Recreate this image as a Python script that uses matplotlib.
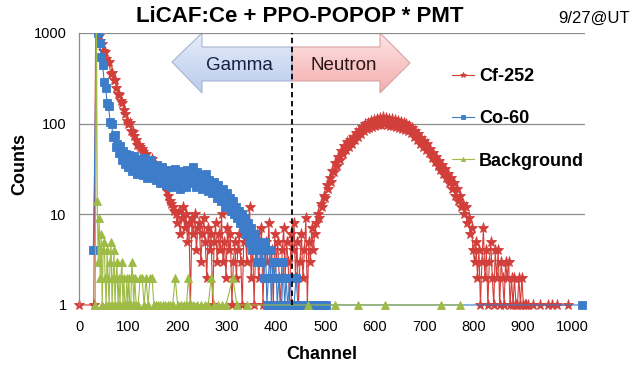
import numpy as np
import matplotlib
matplotlib.use("Agg")
import matplotlib.pyplot as plt
from matplotlib.patches import Polygon, Rectangle

plt.rcParams['font.family'] = ['Liberation Sans', 'DejaVu Sans']

# ---------------- data ----------------
# Cf-252 : channels sampled every 3 channels in the dense parts
cf_ch = ([0, 30] + list(range(34, 197, 3)) + list(range(199, 481, 3)) +
         list(range(481, 800, 3)) + list(range(802, 911, 3)) +
         [921, 935, 950, 960, 970, 992])
cf_val = ([1, 1] +
          # fall-off 34..196
          [1500, 1080, 930, 820, 760, 640, 610, 520, 470, 480,
           350, 360, 300, 300, 250, 215, 205, 180, 170, 140,
           128, 108, 100, 102, 82, 80, 74, 66, 58, 58,
           55, 53, 49, 45, 46, 41, 39, 38, 41, 35,
           35, 33, 30, 27, 28, 23, 22, 21, 18, 16,
           14, 13, 12, 11, 10] +
          # noisy plateau 199..478
          [8, 11, 6, 9, 12, 7, 10, 5, 8, 1,
           9, 6, 10, 4, 7, 8, 3, 6, 9, 5,
           2, 7, 4, 6, 1, 5, 8, 3, 6, 4,
           10, 3, 5, 2, 7, 4, 6, 1, 3, 5,
           2, 4, 6, 3, 1, 5, 8, 3, 7, 12,
           2, 5, 1, 4, 6, 2, 3, 7, 1, 4,
           5, 3, 8, 2, 4, 1, 6, 3, 5, 2,
           1, 4, 7, 2, 5, 3, 1, 6, 4, 8,
           2, 5, 1, 3, 6, 2, 4, 9, 1, 5,
           3, 7, 4, 6] +
          # neutron peak 481..799
          [8, 10, 9, 13, 12, 16, 15, 21, 19, 25,
           23, 30, 29, 37, 34, 43, 40, 50, 46, 56,
           51, 62, 55, 66, 60, 72, 66, 79, 72, 86,
           77, 92, 82, 98, 87, 103, 90, 108, 93, 110,
           94, 113, 96, 115, 97, 117, 98, 116, 96, 114,
           95, 112, 94, 110, 92, 108, 90, 105, 88, 102,
           85, 100, 83, 95, 78, 89, 72, 82, 66, 76,
           60, 69, 55, 64, 51, 59, 47, 53, 42, 48,
           38, 43, 34, 39, 31, 35, 28, 32, 25, 28,
           22, 25, 19, 22, 16, 19, 14, 16, 12, 13,
           10, 12, 8, 9, 6, 7, 4] +
          # tail 802..910
          [3, 5, 2, 4, 1, 3, 7, 2, 4, 1,
           3, 5, 2, 1, 4, 2, 4, 1, 3, 2,
           1, 3, 2, 3, 1, 2, 1, 2, 1, 1,
           2, 1, 2, 1, 1, 1, 1] +
          [1, 1, 1, 1, 1, 1])

# Co-60
co_ch = ([29, 36] + list(range(39, 425, 3)) +
         [428, 432, 436, 440, 444, 448, 452, 458, 464, 470, 476, 482, 488, 494, 500, 1020])
co_val = ([4, 1500] +
          [1000, 780, 540, 440, 290, 250, 170, 155, 105, 100,
           72, 75, 55, 60, 48, 56, 40, 50, 36, 46,
           33, 45, 38, 30, 44, 35, 28, 41, 32, 38,
           27, 42, 33, 25, 37, 30, 40, 26, 33, 24,
           35, 28, 22, 33, 26, 30, 21, 31, 25, 20,
           29, 24, 32, 21, 27, 19, 30, 23, 26, 20,
           31, 24, 28, 22, 33, 25, 20, 29, 23, 27,
           19, 26, 22, 28, 18, 24, 21, 17, 23, 19,
           15, 21, 17, 14, 19, 15, 12, 17, 13, 15,
           11, 14, 10, 12, 9, 11, 8, 10, 7, 9,
           6, 8, 5, 7, 4, 6, 5, 3, 5, 4,
           3, 4, 2, 5, 1, 2, 4, 1, 3, 2,
           3, 1, 2, 1, 1, 3, 1, 2, 1] +
          [2, 1, 1, 2, 1, 1, 1, 1, 1, 1, 1, 1, 1, 1, 1, 1])

# Background
bg_ch = [33, 35, 37, 39, 41, 43, 45, 47, 49, 51, 53, 55, 57, 59, 61, 63, 65, 67, 69, 71, 73,
         75, 77, 79, 81, 83, 85, 87, 89, 91, 93, 95, 97, 99, 101, 103, 105, 107, 109, 111,
         113, 116, 120, 124, 128, 132, 136, 140, 144, 148, 152, 156, 160, 165, 170, 175,
         180, 185, 190, 195, 200, 206, 212, 218, 222, 226, 232, 240, 248, 256, 262, 268,
         274, 282, 290, 298, 312, 320, 340, 465, 520, 565, 620, 735, 773]
bg_val = [1, 5000, 14, 3, 9, 2, 6, 1, 4, 5, 2, 1, 4, 2, 1, 3, 5, 1, 2, 4, 1,
          2, 3, 1, 2, 1, 2, 3, 1, 2, 1, 1, 2, 1, 2, 1, 1, 3, 2, 1,
          2, 1, 1, 2, 2, 1, 2, 1, 2, 2, 1, 1, 1, 1, 1, 1,
          1, 1, 1, 2, 1, 1, 1, 1, 2, 1, 1, 1, 1, 1, 1, 2,
          1, 1, 1, 1, 2, 1, 1, 1, 1, 1, 1, 1, 1]

labels = ['Cf-252', 'Co-60', 'Background']
colors = ['#d23f3a', '#3d7cc9', '#9dbb45']
xticks = [0, 100, 200, 300, 400, 500, 600, 700, 800, 900, 1000]
yticks = [1, 10, 100, 1000]
split_channel = 432

# ---------------- figure ----------------
W, H = 640, 372
fig = plt.figure(figsize=(W / 100, H / 100), dpi=100)

# overlay for the Gamma / Neutron arrows (pixel coordinates)
ov = fig.add_axes([0, 0, 1, 1], zorder=0)
ov.set_xlim(0, W)
ov.set_ylim(H, 0)
ov.axis('off')

ax = fig.add_axes([79 / W, 67 / H, 506 / W, 272 / H], zorder=1)
ax.set_facecolor('none')

clip = Rectangle((-0.03, -0.035), 1.06, 1.035, transform=ax.transAxes,
                 facecolor='none', edgecolor='none')
ax.add_patch(clip)

series = [(cf_ch, cf_val, '*', 8.0), (co_ch, co_val, 's', 5.5), (bg_ch, bg_val, '^', 5.5)]
for (ch, val, mk, ms), lab, col in zip(series, labels, colors):
    ln, = ax.plot(ch, val, color=col, lw=0.8, marker=mk, ms=ms, mec=col, mfc=col,
                  mew=0.6, label=lab)
    ln.set_clip_path(clip)

ax.set_yscale('log')
ax.set_ylim(1, 1000)
ax.set_xlim(0, 1026)
ax.set_yticks(yticks)
ax.set_yticklabels([str(v) for v in yticks])
ax.yaxis.set_minor_locator(matplotlib.ticker.NullLocator())
ax.set_xticks(xticks)
ax.set_xticklabels([str(v) for v in xticks])
ax.tick_params(length=0, labelsize=10.5)
ax.tick_params(axis='y', pad=9)
ax.tick_params(axis='x', pad=11)
ax.grid(axis='y', color='#8c8c8c', lw=0.9)
ax.set_axisbelow(True)
for s in ['top', 'right', 'bottom']:
    ax.spines[s].set_visible(False)
ax.spines['left'].set_color('#8c8c8c')
ax.spines['left'].set_linewidth(0.9)

ax.axvline(split_channel, color='black', lw=1.3, ls=(0, (3, 2)), zorder=5)

ax.set_xlabel('Channel', fontsize=13, fontweight='bold')
ax.set_ylabel('Counts', fontsize=13, fontweight='bold')
ax.xaxis.set_label_coords(0.48, -0.15)
ax.yaxis.set_label_coords(-0.1, 0.52)

# arrows
xs = 79 + split_channel * 506 / 1026


def grad_arrow(pts, top, bottom, edge):
    poly = Polygon(pts, closed=True, facecolor='none', edgecolor=edge, lw=0.8, zorder=2)
    ov.add_patch(poly)
    t = np.linspace(0, 1, 64)[:, None]
    c0 = np.array(matplotlib.colors.to_rgb(top))
    c1 = np.array(matplotlib.colors.to_rgb(bottom))
    img = (c0 * (1 - t) + c1 * t)[:, None, :]
    xs_ = [p[0] for p in pts]
    ys_ = [p[1] for p in pts]
    im = ov.imshow(img, extent=(min(xs_), max(xs_), max(ys_), min(ys_)), aspect='auto',
                   zorder=1, interpolation='bilinear')
    im.set_clip_path(poly)


grad_arrow([(172, 62), (202, 33), (202, 47), (xs, 47), (xs, 81), (202, 81), (202, 93)],
           '#e6edf9', '#b9cbee', '#a9b4cf')
grad_arrow([(xs, 47), (380, 47), (380, 33), (410, 63), (380, 93), (380, 81), (xs, 81)],
           '#fde4e4', '#f4adad', '#d9a3a3')
ov.set_xlim(0, W)
ov.set_ylim(H, 0)
ov.text(239, 65, 'Gamma', fontsize=13.5, color='#15213f', ha='center', va='center', zorder=3)
ov.text(344, 65, 'Neutron', fontsize=13.5, color='#2a1515', ha='center', va='center', zorder=3)

# titles
fig.text(300 / W, 1 - 17 / H, 'LiCAF:Ce + PPO-POPOP * PMT', fontsize=16, fontweight='bold',
         ha='center', va='center')
fig.text(558 / W, 1 - 18 / H, '9/27@UT', fontsize=12, ha='left', va='center')

leg = ax.legend(loc='upper left', bbox_to_anchor=(452 / W, 1 - 68 / H),
                bbox_transform=fig.transFigure, frameon=False,
                prop={'size': 13, 'weight': 'bold'}, handlelength=1.2,
                handletextpad=0.3, labelspacing=1.4, borderpad=0, borderaxespad=0,
                numpoints=1, markerscale=0.55)

fig.savefig('out.png', dpi=100)
